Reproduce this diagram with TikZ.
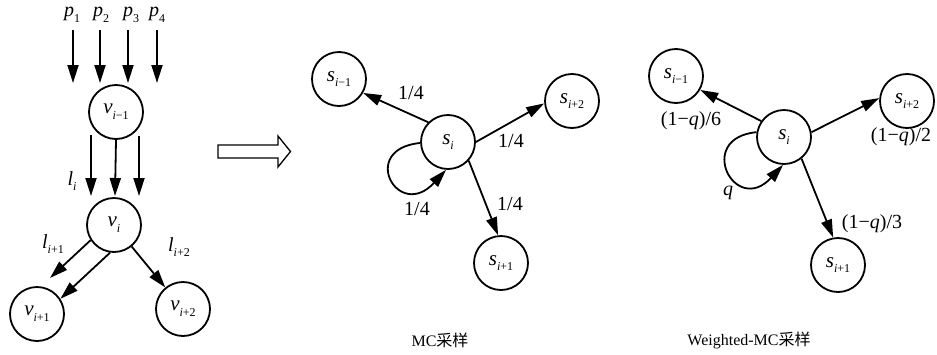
\documentclass[tikz,border=0pt]{standalone}
\usepackage{fontspec}
\setmainfont{Liberation Serif}
\newfontfamily\cjk{Noto Sans CJK SC}
\usetikzlibrary{arrows.meta}

% italic symbol with a lowered subscript
\newcommand{\ixsub}[2]{\textit{#1}\raisebox{-0.6ex}{\fontsize{12}{12}\selectfont #2}}
\newcommand{\idx}{\textit{i}}

\begin{document}
\begin{tikzpicture}[x=1pt,y=-1pt,
  state/.style={circle, draw, line width=1.8pt, minimum size=54pt, inner sep=0pt,
                font=\fontsize{21}{22}\selectfont},
  arr/.style={line width=1.8pt, -{Triangle[length=18pt,width=11pt]}},
  lbl/.style={font=\fontsize{20}{22}\selectfont, inner sep=0pt},
  captext/.style={font=\fontsize{16}{18}\selectfont, inner sep=0pt}]
\useasboundingbox (0,0) rectangle (937,354);

% ---------- left: flow through consecutive nodes ----------
\node[lbl] (p1) at (72,15)  {\ixsub{p}{1}};
\node[lbl] (p2) at (101,15) {\ixsub{p}{2}};
\node[lbl] (p3) at (131,15) {\ixsub{p}{3}};
\node[lbl] (p4) at (157,15) {\ixsub{p}{4}};

\node[state] (vm1) at (116,112) {\ixsub{v}{\idx−1}};
\node[state] (v)   at (114,225) {\ixsub{v}{\idx}};
\node[state] (vp1) at (37,314)  {\ixsub{v}{\idx+1}};
\node[state] (vp2) at (183,309) {\ixsub{v}{\idx+2}};

\foreach \k/\x in {1/73,2/100,3/128,4/157}{
  \coordinate (pa\k) at (\x,30);
  \coordinate (pb\k) at (\x,83);
  \draw[arr] (pa\k) -- (pb\k);
}

\coordinate (la1) at (91,135);  \coordinate (lb1) at (91,196);
\coordinate (lb2) at (115,196);
\coordinate (la3) at (139,136); \coordinate (lb3) at (139,196);
\draw[arr] (la1) -- (lb1);
\draw[arr] (vm1.south) -- (lb2);
\draw[arr] (la3) -- (lb3);

\coordinate (ta) at (50,278);
\draw[arr] (v.213) -- (ta);
\draw[arr] (v.262) -- (vp1.33);
\draw[arr] (v) -- (vp2);

\node[lbl] (li)  at (72,181)  {\ixsub{l}{\idx}};
\node[lbl] (li1) at (53,244)  {\ixsub{l}{\idx+1}};
\node[lbl] (li2) at (179,247) {\ixsub{l}{\idx+2}};

% ---------- hollow block arrow ----------
\draw[line width=1.3pt] (218,145) -- (278,145) -- (278,136) -- (290.5,151.5)
  -- (278,167) -- (278,158) -- (218,158) -- cycle;

% ---------- middle: MC sampling ----------
\node[state] (mi)   at (448,142) {\ixsub{s}{\idx}};
\node[state] (mim1) at (339,79)  {\ixsub{s}{\idx−1}};
\node[state] (mip2) at (572,101) {\ixsub{s}{\idx+2}};
\node[state] (mip1) at (501,263) {\ixsub{s}{\idx+1}};

\draw[arr] (mi.135) -- (mim1.330);
\draw[arr] (mi.0) -- (mip2.185);
\draw[arr] (mi.-42) -- (mip1.96);
\draw[arr] (mi.182) .. controls +(-62,6) and +(-48,52) .. (mi.266);

\node[lbl] (m1) at (411,93)  {1/4};
\node[lbl] (m2) at (511,141) {1/4};
\node[lbl] (m3) at (510,204) {1/4};
\node[lbl] (m4) at (417,209) {1/4};

\node[captext] (mcap) at (440,340) {MC{\cjk 采样}};

% ---------- right: weighted MC sampling ----------
\node[state] (ri)   at (784,137) {\ixsub{s}{\idx}};
\node[state] (rim1) at (676,76)  {\ixsub{s}{\idx−1}};
\node[state] (rip2) at (907,101) {\ixsub{s}{\idx+2}};
\node[state] (rip1) at (838,265) {\ixsub{s}{\idx+1}};

\draw[arr] (ri.145) -- (rim1.-30);
\draw[arr] (ri.10) -- (rip2.174);
\draw[arr] (ri.-51) -- (rip1.100);
\draw[arr] (ri.170) .. controls +(-62,6) and +(-48,52) .. (ri.268);

\node[lbl] (r1) at (691,121) {(1−\textit{q})/6};
\node[lbl] (r2) at (901,137) {(1−\textit{q})/2};
\node[lbl] (r3) at (872,224) {(1−\textit{q})/3};
\node[lbl] (r4) at (728,193) {\textit{q}};

\node[captext] (rcap) at (749,340) {Weighted-MC{\cjk 采样}};
\end{tikzpicture}
\end{document}
